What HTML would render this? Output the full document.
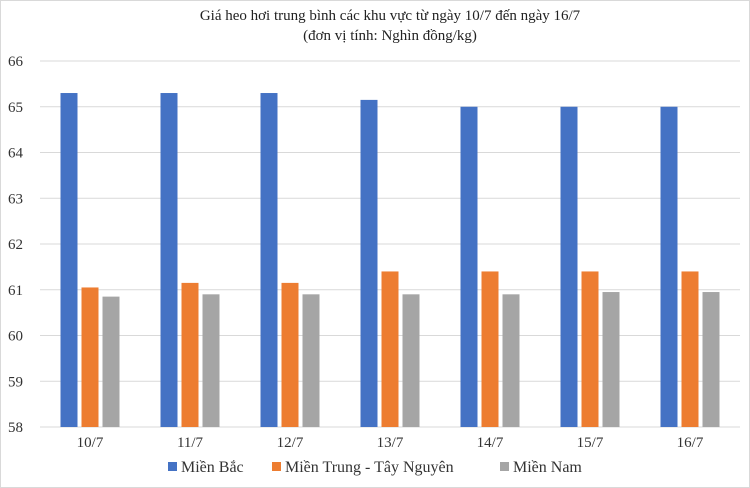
<!DOCTYPE html>
<html><head><meta charset="utf-8"><style>
body{margin:0;background:#fff;}
svg{display:block;}
svg text{font-family:"Liberation Serif",serif;}
</style></head><body>
<svg id="c" width="750" height="488" viewBox="0 0 750 488">
<rect x="0.5" y="0.5" width="749" height="487" fill="#fff" stroke="#d9d9d9"/>
<text x="390" y="20" text-anchor="middle" font-size="15" fill="#222" font-family="Liberation Serif, serif">Giá heo hơi trung bình các khu vực từ ngày 10/7 đến ngày 16/7</text>
<text x="390" y="40" text-anchor="middle" font-size="15" fill="#222" font-family="Liberation Serif, serif">(đơn vị tính: Nghìn đồng/kg)</text>
<g id="grid"></g><g id="bars"></g><g id="labels"></g><g id="legend"></g>
</svg>
<script>
const categories=["10/7","11/7","12/7","13/7","14/7","15/7","16/7"];
const mienBac=[65.3,65.3,65.3,65.15,65,65,65];
const mienTrung=[61.05,61.15,61.15,61.4,61.4,61.4,61.4];
const mienNam=[60.85,60.9,60.9,60.9,60.9,60.95,60.95];
const yTicks=[58,59,60,61,62,63,64,65,66];
const seriesNames=["Miền Bắc","Miền Trung - Tây Nguyên","Miền Nam"];
const colors=["#4472c4","#ed7d31","#a5a5a5"];
const NS="http://www.w3.org/2000/svg";
const F="Liberation Serif, serif";
const L=40,R=740,T=61,B=427,ymin=58,ymax=66;
const y=v=>B-(v-ymin)/(ymax-ymin)*(B-T);
const xc=i=>L+(R-L)/categories.length*(i+0.5);
function mk(t,a,p){const e=document.createElementNS(NS,t);for(const k in a)e.setAttribute(k,a[k]);p.appendChild(e);return e;}
const g=document.getElementById('grid');
yTicks.forEach(t=>{
 const l=mk('line',{x1:L,x2:R,y1:y(t),y2:y(t),stroke:'#d9d9d9','stroke-width':1},g);
 
 
 const tx=mk('text',{x:8,y:y(t)+5,'font-size':15,fill:'#333','font-family':F},g);tx.textContent=t;
 
 
});
const bg=document.getElementById('bars');
const series=[mienBac,mienTrung,mienNam];
const bw=17,gap=4;
series.forEach((s,si)=>{
 s.forEach((v,i)=>{
  const x=xc(i)-(3*bw+2*gap)/2+si*(bw+gap);
  const r=mk('rect',{x:x,y:y(v),width:bw,height:B-y(v),fill:colors[si]},bg);
  
  
 });
});
const lg=document.getElementById('labels');
categories.forEach((c,i)=>{
 const t=mk('text',{x:xc(i),y:447,'text-anchor':'middle','font-size':15,fill:'#333','font-family':F},lg);t.textContent=c;
 
 
});
const leg=document.getElementById('legend');
const lx=[168,272,500];
seriesNames.forEach((n,i)=>{
 const r=mk('rect',{x:lx[i],y:462,width:9,height:9,fill:colors[i]},leg);
 
 
 const t=mk('text',{x:lx[i]+13,y:472,'font-size':16,fill:'#333','font-family':F},leg);t.textContent=n;
 
 
});
</script>
</body></html>
